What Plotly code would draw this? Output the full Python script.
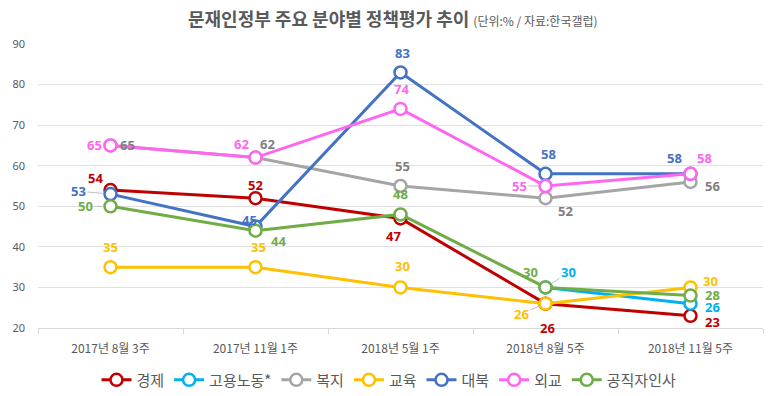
import plotly.graph_objects as go

categories = ["2017년 8월 3주", "2017년 11월 1주", "2018년 5월 1주", "2018년 8월 5주", "2018년 11월 5주"]
series_names = ["경제", "고용노동*", "복지", "교육", "대북", "외교", "공직자인사"]
economy = [54, 52, 47, 26, 23]
labor = [None, None, None, 30, 26]
welfare = [65, 62, 55, 52, 56]
education = [35, 35, 30, 26, 30]
north_korea = [53, 45, 83, 58, 58]
diplomacy = [65, 62, 74, 55, 58]
personnel = [50, 44, 48, 30, 28]
series_values = [economy, labor, welfare, education, north_korea, diplomacy, personnel]

colors = ["#C00000", "#00B0F0", "#A5A5A5", "#FFC000", "#4472C4", "#FF66F0", "#70AD47"]
label_colors = ["#C00000", "#00B0F0", "#7F7F7F", "#FFC000", "#4472C4", "#FF66F0", "#70AD47"]

# label offsets in pixels (dx, dy; dy positive = down) and whether a leader line is drawn
label_offsets = [
    [(-15, -12, 0), (0, -13, 0), (-7, 18, 0), (2, 24, 0), (22, 6, 0)],          # 경제
    [None, None, None, (23, -15, 1), (22, 3, 0)],                               # 고용
    [(17, 0, 0), (12, -14, 0), (2, -20, 0), (20, 13, 0), (22, 4, 0)],            # 복지
    [(0, -20, 0), (3, -20, 0), (2, -21, 0), (-24, 10, 1), (20, -6, 0)],          # 교육
    [(-32, -3, 1), (-6, -7, 0), (2, -19, 0), (3, -20, 0), (-16, -16, 0)],        # 대북
    [(-16, 0, 0), (-14, -14, 0), (1, -20, 0), (-26, 0, 1), (14, -16, 0)],        # 외교
    [(-25, 0, 1), (23, 10, 0), (0, -20, 0), (-15, -15, 1), (22, -1, 0)],         # 공직
]

fig = go.Figure()
for name, vals, col in zip(series_names, series_values, colors):
    fig.add_trace(go.Scatter(
        x=categories, y=vals, name=name, mode="lines+markers",
        line=dict(color=col, width=3),
        marker=dict(symbol="circle", size=12, color="white", line=dict(color=col, width=2.5)),
        connectgaps=False,
    ))

annotations = []
for vals, lcol, offs in zip(series_values, label_colors, label_offsets):
    for cat, v, off in zip(categories, vals, offs):
        if v is None or off is None:
            continue
        dx, dy, leader = off
        annotations.append(dict(
            x=cat, y=v, xref="x", yref="y", text=str(v),
            showarrow=True, ax=dx, ay=dy, axref="pixel", ayref="pixel",
            arrowhead=0, arrowwidth=1, standoff=7,
            arrowcolor="#BFBFBF" if leader else "rgba(0,0,0,0)",
            font=dict(family="Noto Sans, Arial", size=13, color=lcol, weight="bold"),
        ))

fig.update_layout(
    width=765, height=388,
    paper_bgcolor="white", plot_bgcolor="white",
    margin=dict(l=30, r=10, t=36, b=68),
    title=dict(
        text="<b>문재인정부 주요 분야별 정책평가 추이</b> <span style='font-size:12px;font-weight:normal'>(단위:% / 자료:한국갤럽)</span>",
        x=0.503, xanchor="center", y=0.969, yanchor="middle",
        font=dict(family="Noto Sans CJK KR", size=18, color="#595959"),
    ),
    font=dict(family="Noto Sans CJK KR", color="#595959"),
    showlegend=True,
    legend=dict(orientation="h", xref="container", yref="container",
                x=0.498, xanchor="center", y=0.041, yanchor="middle",
                font=dict(size=15, color="#595959"), itemwidth=30, tracegroupgap=0),
    annotations=annotations,
)
fig.update_xaxes(
    type="category", range=[-0.5, 4.5], showgrid=False, showline=True, linecolor="#D9D9D9", linewidth=1,
    ticks="outside", tickson="boundaries", ticklen=5, tickcolor="#D9D9D9", ticklabelstandoff=10,
    tickfont=dict(family="Noto Sans CJK KR", size=12, color="#595959"), automargin=False,
)
fig.update_yaxes(
    range=[20, 90], dtick=10, showgrid=True, gridcolor="#E0E0E0", gridwidth=1,
    zeroline=False, showline=False, ticklabelstandoff=12, automargin=False,
    tickfont=dict(family="Noto Sans", size=11, color="#595959"),
)
fig.write_html("out.html")
